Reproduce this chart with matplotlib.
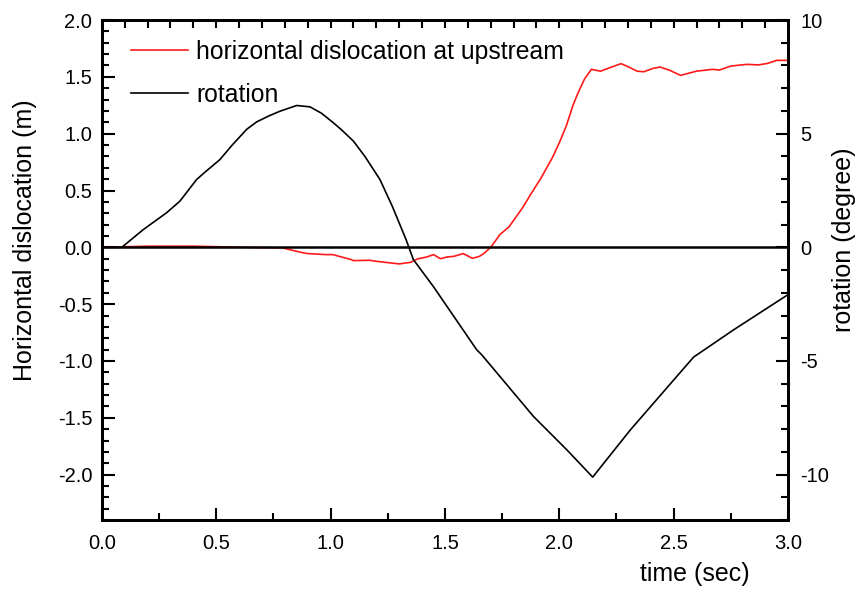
import numpy as np
import matplotlib.pyplot as plt
from matplotlib.ticker import MultipleLocator

plt.rcParams['font.family'] = ['Liberation Sans', 'DejaVu Sans']

# horizontal dislocation at upstream (m), left axis
t_disp = [0.0, 0.2, 0.4, 0.63, 0.79, 0.87, 0.9, 0.98, 1.01, 1.09, 1.1, 1.17, 1.2,
          1.3, 1.35, 1.38, 1.42, 1.45, 1.48, 1.51, 1.54, 1.58, 1.62, 1.65, 1.67,
          1.7, 1.73, 1.74, 1.78, 1.81, 1.84, 1.87, 1.92, 1.97, 2.0, 2.03, 2.06,
          2.08, 2.11, 2.14, 2.18, 2.22, 2.27, 2.3, 2.34, 2.37, 2.41, 2.44, 2.48,
          2.53, 2.6, 2.67, 2.7, 2.75, 2.82, 2.87, 2.91, 2.95, 3.0]
disp = [0.0, 0.01, 0.01, 0.0, -0.005, -0.044, -0.055, -0.064, -0.064, -0.108,
        -0.117, -0.114, -0.123, -0.146, -0.132, -0.102, -0.085, -0.064, -0.1,
        -0.085, -0.079, -0.055, -0.097, -0.08, -0.055, 0.0, 0.083, 0.112, 0.18,
        0.265, 0.35, 0.45, 0.61, 0.79, 0.92, 1.066, 1.25, 1.35, 1.48, 1.566,
        1.55, 1.58, 1.616, 1.59, 1.55, 1.545, 1.575, 1.586, 1.56, 1.513, 1.55,
        1.566, 1.56, 1.595, 1.61, 1.605, 1.618, 1.645, 1.645]

# rotation (degree), right axis
t_rot = [0.0, 0.087, 0.181, 0.283, 0.341, 0.414, 0.45, 0.516, 0.57, 0.633,
         0.677, 0.73, 0.779, 0.852, 0.91, 0.96, 1.012, 1.05, 1.1, 1.15, 1.216,
         1.27, 1.33, 1.362, 1.449, 1.639, 1.661, 1.887, 2.033, 2.146, 2.31,
         2.587, 2.762, 3.0]
rot = [0.0, 0.0, 0.78, 1.52, 2.03, 2.98, 3.3, 3.86, 4.5, 5.19, 5.52, 5.78,
       5.99, 6.24, 6.18, 5.9, 5.48, 5.15, 4.67, 4.0, 2.98, 1.8, 0.34, -0.54,
       -1.72, -4.51, -4.73, -7.44, -8.91, -10.11, -8.04, -4.83, -3.63, -2.08]

fig = plt.figure(figsize=(8.56, 5.89), dpi=100)
ax = fig.add_axes([0.119, 0.117, 0.8016, 0.849])
ax2 = ax.twinx()

l1, = ax.plot(t_disp, disp, color='#ff1a1a', lw=1.2, label='horizontal dislocation at upstream')
ax.axhline(0, color='black', lw=1.8)
l2, = ax2.plot(t_rot, rot, color='black', lw=1.2, label='rotation')

ax.set_xlim(0, 3.0)
ax.set_ylim(-2.4, 2.0)
ax2.set_ylim(-12, 10)

ax.xaxis.set_major_locator(MultipleLocator(0.5))
ax.xaxis.set_minor_locator(MultipleLocator(0.25))
ax.yaxis.set_major_locator(MultipleLocator(0.5))
ax.yaxis.set_minor_locator(MultipleLocator(0.1))
ax2.yaxis.set_major_locator(MultipleLocator(5))
ax2.yaxis.set_minor_locator(MultipleLocator(1))

ax.xaxis.set_major_formatter(lambda v, p: f'{v:.1f}')
ax.yaxis.set_major_formatter(lambda v, p: f'{v:.1f}')
ax2.yaxis.set_major_formatter(lambda v, p: f'{v:.0f}')

ax.tick_params(axis='x', which='major', pad=10)
ax.tick_params(axis='y', which='major', pad=7)
ax.tick_params(which='major', direction='in', length=9, width=1.5, labelsize=14.5)
ax.tick_params(which='minor', direction='in', length=5, width=1.5)
ax2.tick_params(which='major', direction='in', length=9, width=1.5, labelsize=14.5, pad=9)
ax2.tick_params(which='minor', direction='in', length=5, width=1.5)

# top ticks every 0.1
top = ax.secondary_xaxis('top')
top.set_xticks(np.arange(0, 3.01, 0.1))
top.set_xticklabels([])
top.tick_params(direction='in', length=6, width=1.5)

for a in (ax, ax2):
    for s in a.spines.values():
        s.set_linewidth(2)

ax.set_ylabel('Horizontal dislocation (m)', fontsize=18)
ax2.set_ylabel('rotation (degree)', fontsize=18)
ax.set_xlabel('time (sec)', fontsize=18)
ax.xaxis.set_label_coords(0.864, -0.084)
ax.yaxis.set_label_coords(-0.095, 0.56)
ax2.yaxis.set_label_coords(1.064, 0.56)

ax2.legend([l1, l2], [l1.get_label(), l2.get_label()], loc='upper left',
           bbox_to_anchor=(0.01, 1.005), frameon=False, fontsize=17.8,
           handlelength=2.3, handletextpad=0.35, labelspacing=0.78)

fig.savefig('out.png', dpi=100)
